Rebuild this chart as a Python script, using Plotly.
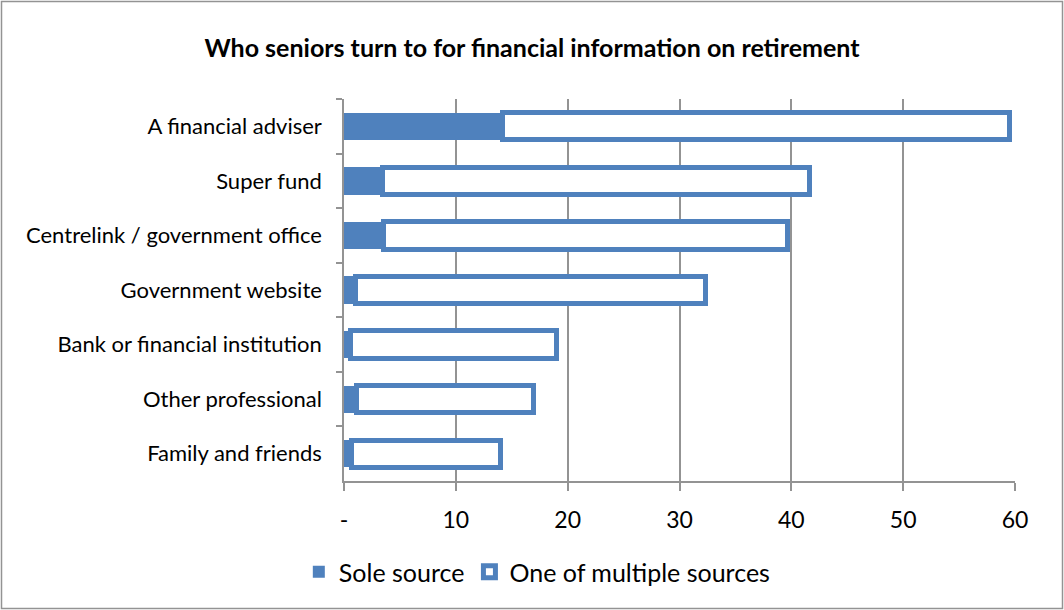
import plotly.graph_objects as go

categories = ["A financial adviser", "Super fund", "Centrelink / government office",
              "Government website", "Bank or financial institution",
              "Other professional", "Family and friends"]
sole_source = [14.2, 3.4, 3.5, 1.0, 0.55, 1.15, 0.7]
multiple_sources = [45.3, 38.2, 36.2, 31.3, 18.45, 15.75, 13.3]
tick_vals = [0, 10, 20, 30, 40, 50, 60]
tick_text = ["-", "10", "20", "30", "40", "50", "60"]

BLUE = "#4F81BD"
FONT = "Lato"

fig = go.Figure()
fig.add_trace(go.Bar(y=categories, x=sole_source, orientation="h", name="Sole source",
                     marker=dict(color=BLUE, line=dict(color=BLUE, width=0))))
fig.add_trace(go.Bar(y=categories, x=multiple_sources, orientation="h",
                     name="One of multiple sources",
                     marker=dict(color="white", line=dict(color=BLUE, width=5))))

L, R, T, B = 344, 49, 99, 129
W, H = 1064, 610
pw, ph = W - L - R, H - T - B

fig.update_layout(
    width=W, height=H,
    barmode="stack", bargap=0.5,
    margin=dict(l=L, r=R, t=T, b=B),
    paper_bgcolor="white", plot_bgcolor="white",
    font=dict(family=FONT, size=22, color="black"),
    title=dict(text="<b>Who seniors turn to for financial information on retirement</b>",
               x=0.5, xref="container", y=1 - 48 / H, yref="container",
               xanchor="center", yanchor="middle",
               font=dict(family=FONT, size=25, color="black")),
    xaxis=dict(range=[0, 60], tickvals=tick_vals, ticktext=tick_text,
               showgrid=True, gridcolor="#939393", gridwidth=1.5,
               showline=True, linecolor="#939393", linewidth=1.5,
               ticks="outside", ticklen=8, tickcolor="#939393", tickwidth=1.5,
               zeroline=False, tickfont=dict(size=23), ticklabelstandoff=10,
               fixedrange=True),
    yaxis=dict(categoryorder="array", categoryarray=categories, autorange="reversed",
               showline=True, linecolor="#939393", linewidth=1.5,
               ticks="outside", ticklen=6, tickcolor="#939393", tickwidth=1.5,
               tickson="boundaries", ticklabelstandoff=16, showgrid=False,
               tickfont=dict(size=22)),
    legend=dict(orientation="h", xref="container", x=0.505, xanchor="center",
                yref="container", y=1 - 572 / H, yanchor="middle",
                font=dict(size=25), itemwidth=30, tracegroupgap=0,
                traceorder="normal"),
    showlegend=True,
)

fig.add_shape(type="rect", xref="paper", yref="paper",
              x0=(1.5 - L) / pw, x1=(W - 1.5 - L) / pw,
              y0=(H - B - (H - 1.5)) / ph, y1=(H - B - 1.5) / ph,
              line=dict(color="#939393", width=1.5), fillcolor="rgba(0,0,0,0)",
              layer="below")

fig.write_html("out.html")
